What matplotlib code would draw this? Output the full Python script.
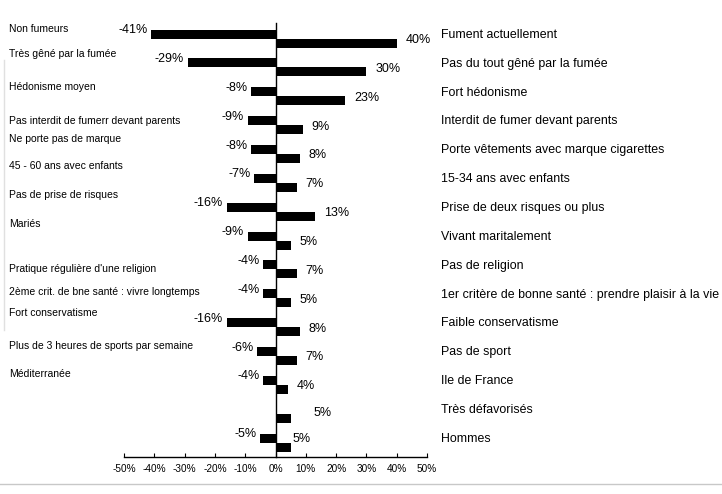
import numpy as np
import matplotlib.pyplot as plt
from matplotlib.transforms import blended_transform_factory
from matplotlib.lines import Line2D

plt.rcParams['font.family'] = ['Liberation Sans', 'DejaVu Sans']

# Data
right_labels = ["Fument actuellement", "Pas du tout gêné par la fumée", "Fort hédonisme",
                "Interdit de fumer devant parents", "Porte vêtements avec marque cigarettes",
                "15-34 ans avec enfants", "Prise de deux risques ou plus", "Vivant maritalement",
                "Pas de religion", "1er critère de bonne santé : prendre plaisir à la vie",
                "Faible conservatisme", "Pas de sport", "Ile de France", "Très défavorisés",
                "Hommes"]
pos_values = [40, 30, 23, 9, 8, 7, 13, 5, 7, 5, 8, 7, 4, 5, 5]

left_labels = ["Non fumeurs", "Très gêné par la fumée", "Hédonisme moyen",
               "Pas interdit de fumerr devant parents", "Ne porte pas de marque",
               "45 - 60 ans avec enfants", "Pas de prise de risques", "Mariés",
               "Pratique régulière d'une religion", "2ème crit. de bne santé : vivre longtemps",
               "Fort conservatisme", "Plus de 3 heures de sports par semaine", "Méditerranée",
               "", ""]
neg_values = [-41, -29, -8, -9, -8, -7, -16, -9, -4, -4, -16, -6, -4, np.nan, -5]

# layout of the left labels (they drift in the original)
left_offsets = [-0.33, -0.46, -0.32, -0.15, -0.52, -0.59, -0.58, -0.58,
                -0.03, -0.23, -0.5, -0.33, -0.39, 0, 0]

n = len(pos_values)
y = np.arange(n)
h = 0.31

fig = plt.figure(figsize=(7.22, 4.94), dpi=100)
ax = fig.add_axes([124 / 722, 1 - 457 / 494, 303 / 722, 434 / 494])

ax.barh(y - h / 2, neg_values, height=h, color='black')
ax.barh(y + h / 2, pos_values, height=h, color='black')

ax.set_xlim(-50, 50)
ax.set_ylim(n - 0.5, -0.54)
ticks = np.arange(-50, 51, 10)
ax.set_xticks(ticks)
ax.set_xticklabels([f"{t}%" for t in ticks], fontsize=7.2)
ax.tick_params(axis='x', direction='in', length=3, width=0.8, pad=5)
ax.set_yticks([])
for s in ['top', 'right']:
    ax.spines[s].set_visible(False)
ax.spines['left'].set_position(('data', 0))
ax.spines['left'].set_linewidth(1)
ax.spines['bottom'].set_linewidth(1)

# value labels
pos_shift = {13: (23, 5), 14: (2, 8)}
for i in range(n):
    v = neg_values[i]
    if not np.isnan(v):
        ax.annotate(f"{v}%", (v, y[i] - h / 2), xytext=(-4, 4), textcoords='offset pixels',
                    ha='right', va='center', fontsize=9)
    dx, dy = pos_shift.get(i, (9, 3))
    ax.annotate(f"{pos_values[i]}%", (pos_values[i], y[i] + h / 2), xytext=(dx, dy),
                textcoords='offset pixels', ha='left', va='center', fontsize=9)

# category labels
tr = blended_transform_factory(fig.transFigure, ax.transData)
for i in range(n):
    ax.text(441 / 722, y[i] - 0.13, right_labels[i], transform=tr, ha='left',
            va='center', fontsize=8.9)
    if left_labels[i]:
        ax.text(9 / 722, y[i] + left_offsets[i], left_labels[i], transform=tr,
                ha='left', va='center', fontsize=7.5)

# faint scan frame
fig.add_artist(Line2D([0, 1], [1 - 484 / 494] * 2, color='#c8c8c8', lw=1))
fig.add_artist(Line2D([4 / 722] * 2, [1 - 60 / 494, 1 - 330 / 494], color='#e0e0e0', lw=1))

fig.savefig('out.png', dpi=100)
